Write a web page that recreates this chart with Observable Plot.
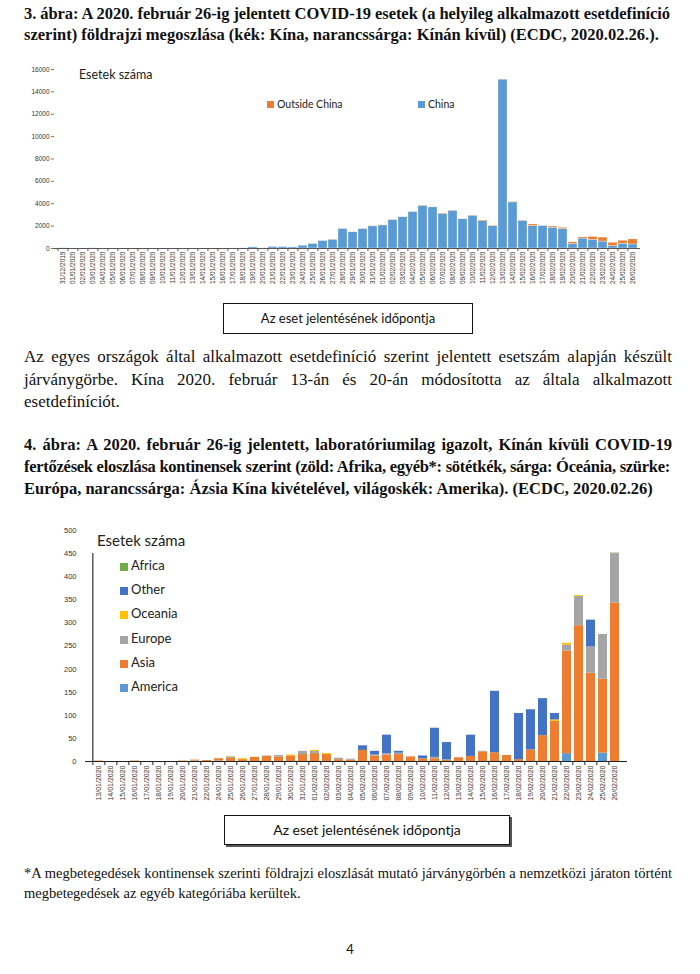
<!DOCTYPE html>
<html><head><meta charset="utf-8">
<script src="https://cdn.jsdelivr.net/npm/d3@7"></script>
<script src="https://cdn.jsdelivr.net/npm/@observablehq/plot@0.6"></script>
<style>
body{margin:0;background:#fff;}
#page{position:relative;width:700px;height:974px;overflow:hidden;background:#fff;}
.abs{position:absolute;}
.serif{font-family:"Liberation Serif","Times New Roman",serif;color:#111;}
.ln{white-space:nowrap;overflow:visible;}
.j{text-align:justify;text-align-last:justify;white-space:normal;}
.sans{font-family:Lato,"Open Sans",sans-serif;color:#111;}
.box{position:absolute;border:1px solid #111;background:#fff;font-family:Lato,"Open Sans",sans-serif;text-align:center;color:#111;}
.lg{position:absolute;font-family:Lato,"Open Sans",sans-serif;color:#222;white-space:nowrap;}
.sq{display:inline-block;vertical-align:middle;margin-right:3px;}
</style></head>
<body><div id="page"></div>
<script>
// ---------- DATA ----------
const dates1 = ["31/12/2019","01/01/2020","02/01/2020","03/01/2020","04/01/2020","05/01/2020","06/01/2020","07/01/2020","08/01/2020","09/01/2020","10/01/2020","11/01/2020","12/01/2020","13/01/2020","14/01/2020","15/01/2020","16/01/2020","17/01/2020","18/01/2020","19/01/2020","20/01/2020","21/01/2020","22/01/2020","23/01/2020","24/01/2020","25/01/2020","26/01/2020","27/01/2020","28/01/2020","29/01/2020","30/01/2020","31/01/2020","01/02/2020","02/02/2020","03/02/2020","04/02/2020","05/02/2020","06/02/2020","07/02/2020","08/02/2020","09/02/2020","10/02/2020","11/02/2020","12/02/2020","13/02/2020","14/02/2020","15/02/2020","16/02/2020","17/02/2020","18/02/2020","19/02/2020","20/02/2020","21/02/2020","22/02/2020","23/02/2020","24/02/2020","25/02/2020","26/02/2020"];
const china = [27,0,0,17,0,0,0,0,0,0, 0,0,0,0,0,0,0,4,17,100, 19,150,140,97,260,420,680,790,1750,1450, 1745,1975,2060,2545,2795,3273,3810,3673,3072,3375, 2612,2938,2431,1986,15100,4117,2481,1995,2015,1860, 1740,415,890,780,620,210,420,360];
const outsideChina = [0,0,0,0,0,0,0,0,0,0, 0,0,0,1,0,0,1,0,0,0, 1,3,2,0,6,11,6,9,12,13, 14,22,24,17,7,5,34,22,57,22, 10,12,72,41,8,57,22,152,13,104, 112,136,104,256,359,306,275,451];
const yTicks1 = [0,2000,4000,6000,8000,10000,12000,14000,16000];
const series1 = ["China","Outside China"];
const colors1 = ["#5B9BD5","#ED7D31"];

const dates2 = ["13/01/2020","14/01/2020","15/01/2020","16/01/2020","17/01/2020","18/01/2020","19/01/2020","20/01/2020","21/01/2020","22/01/2020","24/01/2020","25/01/2020","26/01/2020","27/01/2020","28/01/2020","29/01/2020","30/01/2020","31/01/2020","01/02/2020","02/02/2020","03/02/2020","04/02/2020","05/02/2020","06/02/2020","07/02/2020","08/02/2020","09/02/2020","10/02/2020","11/02/2020","12/02/2020","13/02/2020","14/02/2020","15/02/2020","16/02/2020","17/02/2020","18/02/2020","19/02/2020","20/02/2020","21/02/2020","22/02/2020","23/02/2020","24/02/2020","25/02/2020","26/02/2020"];
const america = [0,0,0,0,0,0,0,0,1,0, 1,0,0,0,0,0,0,0,0,0, 0,0,0,0,0,0,0,0,0,0, 0,0,0,0,0,0,0,0,0,17, 0,0,18,0];
const asia    = [1,0,0,1,0,0,0,1,2,2, 5,7,4,9,11,10,12,15,17,15, 4,3,24,12,14,15,10,6,6,2, 8,11,21,19,13,4,25,56,87,222, 294,191,160,343];
const europe  = [0,0,0,0,0,0,0,0,0,0, 0,3,0,0,1,3,0,7,5,0, 3,2,0,2,3,3,0,0,3,2, 0,0,1,0,0,0,0,0,0,13, 63,57,97,107];
const oceania = [0,0,0,0,0,0,0,0,0,0, 0,1,2,0,0,0,2,0,2,2, 0,0,0,0,0,0,0,0,0,0, 0,0,0,0,0,0,0,0,3,4, 2,0,0,0];
const other   = [0,0,0,0,0,0,0,0,0,0, 0,0,0,0,0,0,0,0,0,0, 0,0,10,8,40,4,0,6,63,37, 0,46,0,133,0,100,87,80,14,0, 0,58,0,0];
const africa  = [0,0,0,0,0,0,0,0,0,0, 0,0,0,0,0,0,0,0,0,0, 0,0,0,0,0,0,0,0,0,0, 0,0,0,0,0,0,0,0,0,0, 0,0,0,1];
const yTicks2 = [0,50,100,150,200,250,300,350,400,450,500];
const series2 = ["America","Asia","Europe","Oceania","Other","Africa"];
const colors2 = ["#5B9BD5","#ED7D31","#A5A5A5","#FFC000","#4472C4","#70AD47"];
const legend2 = ["Africa","Other","Oceania","Europe","Asia","America"];

// ---------- TEXT ----------
const page = document.getElementById("page");
function block(lines, {top, left=24, width=648, size=15, lh=21.5, bold=false, justifyLast=false}) {
  const div = document.createElement("div");
  div.className = "abs serif";
  div.style.cssText += `top:${top}px;left:${left}px;width:${width}px;font-size:${size}px;line-height:${lh}px;font-weight:${bold?"bold":"normal"};`;
  lines.forEach((t, i) => {
    const l = document.createElement("div");
    const just = i < lines.length - 1 || justifyLast;
    l.className = "ln" + (just ? " j" : "");
    l.textContent = t;
    div.appendChild(l);
  });
  page.appendChild(div);
  // fit overlong lines
  div.querySelectorAll(".ln").forEach(l => {
    const s = document.createElement("span"); s.textContent = l.textContent; s.style.whiteSpace = "nowrap";
    s.style.visibility="hidden"; s.style.position="absolute"; div.appendChild(s);
    const w = s.getBoundingClientRect().width; s.remove();
    if (w > width) {
      const n = l.textContent.length;
      l.style.letterSpacing = (-(w - width + 2) / n) + "px";
      l.style.whiteSpace = "nowrap"; l.style.textAlignLast = "left";
    }
  });
  return div;
}
block(["3. ábra: A 2020. február 26-ig jelentett COVID-19 esetek (a helyileg alkalmazott esetdefiníció",
       "szerint) földrajzi megoszlása (kék: Kína, narancssárga: Kínán kívül) (ECDC, 2020.02.26.)."],
      {top:3, bold:true, size:16.5, lh:21});
block(["Az egyes országok által alkalmazott esetdefiníció szerint jelentett esetszám alapján készült",
       "járványgörbe. Kína 2020. február 13-án és 20-án módosította az általa alkalmazott",
       "esetdefiníciót."], {top:346, size:17, lh:22.5});
block(["4. ábra: A 2020. február 26-ig jelentett, laboratóriumilag igazolt, Kínán kívüli COVID-19",
       "fertőzések eloszlása kontinensek szerint (zöld: Afrika, egyéb*: sötétkék, sárga: Óceánia, szürke:",
       "Európa, narancssárga: Ázsia Kína kivételével, világoskék: Amerika). (ECDC, 2020.02.26)"],
      {top:434, bold:true, size:16.5, lh:22});
block(["*A megbetegedések kontinensek szerinti földrajzi eloszlását mutató járványgörbén a nemzetközi járaton történt",
       "megbetegedések az egyéb kategóriába kerültek."], {top:864, size:14.5, lh:19.5});
const pn = document.createElement("div");
pn.className = "abs sans"; pn.style.cssText += "top:941px;left:0;width:700px;text-align:center;font-size:13px;";
pn.textContent = "4"; page.appendChild(pn);

// ---------- CHART 1 ----------
const rows1 = dates1.flatMap((d, i) => [
  {date: d, series: "China", value: china[i]},
  {date: d, series: "Outside China", value: outsideChina[i]}
]);
const W = 700;
const m1 = {l:54, r:60, t:19, b:52};
const bw1 = (W - m1.l - m1.r) / dates1.length;
const chart1 = Plot.plot({
  width: W, height: 250,
  marginLeft: m1.l, marginRight: m1.r, marginTop: m1.t, marginBottom: m1.b,
  style: {fontFamily: "Liberation Sans, Arial, sans-serif", color: "#333", background: "transparent"},
  x: {domain: dates1, paddingInner: 0.14, paddingOuter: 0.07, label: null},
  y: {domain: [0, 16000], label: null},
  color: {domain: series1, range: colors1},
  marks: [
    Plot.barY(rows1, {x: "date", y: "value", fill: "series", order: series1, stroke: "#fff", strokeWidth: 0.3}),
    Plot.axisY({ticks: yTicks1, tickFormat: d => String(d), tickSize: 3, tickPadding: 2, fontSize: 6.5, label: null, stroke: "#777"}),
    Plot.axisX({tickRotate: -90, tickSize: 0, tickPadding: 3, fontSize: 6.5, label: null}),
    Plot.axisX({tickSize: 3, tickFormat: () => "", dx: -bw1 / 2, label: null, stroke: "#555"}),
    Plot.ruleY([0], {stroke: "#555", strokeWidth: 1})
  ]
});
chart1.style.position = "absolute"; chart1.style.left = "0px"; chart1.style.top = "50px";
page.appendChild(chart1);

function addText(txt, css, cls="lg") {
  const d = document.createElement("div"); d.className = cls; d.style.cssText += css; d.textContent = txt; page.appendChild(d); return d;
}
function addLegend(label, color, left, cy, size, sq) {
  const d = document.createElement("div"); d.className = "lg";
  d.style.cssText += `left:${left}px;top:${cy - size*0.7}px;font-size:${size}px;line-height:${size*1.4}px;`;
  const s = document.createElement("span"); s.className = "sq";
  s.style.cssText = `width:${sq}px;height:${sq}px;background:${color};`;
  d.appendChild(s); d.appendChild(document.createTextNode(label)); page.appendChild(d);
}
addText("Esetek száma", "left:79px;top:67px;font-size:12.5px;");
addLegend("Outside China", colors1[1], 267, 104, 10.5, 7);
addLegend("China", colors1[0], 418, 104, 10.5, 7);
const b1 = document.createElement("div"); b1.className = "box";
b1.style.cssText += "left:223px;top:303px;width:248px;height:29px;line-height:29px;font-size:13px;";
b1.textContent = "Az eset jelentésének időpontja"; page.appendChild(b1);

// ---------- CHART 2 ----------
const cols2 = [america, asia, europe, oceania, other, africa];
const rows2 = dates2.flatMap((d, i) => series2.map((s, k) => ({date: d, series: s, value: cols2[k][i]})));
const m2 = {l:85, r:73, t:15, b:54};
const bw2 = (W - m2.l - m2.r) / dates2.length;
const chart2 = Plot.plot({
  width: W, height: 300,
  marginLeft: m2.l, marginRight: m2.r, marginTop: m2.t, marginBottom: m2.b,
  style: {fontFamily: "Liberation Sans, Arial, sans-serif", color: "#333", background: "transparent"},
  x: {domain: dates2, paddingInner: 0.25, paddingOuter: 0.12, label: null},
  y: {domain: [0, 500], label: null},
  color: {domain: series2, range: colors2},
  marks: [
    Plot.barY(rows2, {x: "date", y: "value", fill: "series", order: series2}),
    Plot.axisY({ticks: yTicks2, tickSize: 0, tickPadding: 9, fontSize: 7.5, label: null}),
    Plot.tickY(yTicks2.filter(v => v <= 450), {y: d => d, x: dates2[0], dx: -bw2 / 2 - 2, stroke: "#444"}),
    Plot.ruleX([dates2[0]], {x: d => d, dx: -bw2 / 2, y1: 0, y2: 450, stroke: "#333", strokeWidth: 1.2}),
    Plot.axisX({tickRotate: -90, tickSize: 0, tickPadding: 4, fontSize: 7, label: null}),
    Plot.axisX({tickSize: 4, tickFormat: () => "", dx: -bw2 / 2, label: null, stroke: "#222"}),
    Plot.ruleY([0], {stroke: "#222", strokeWidth: 1.2})
  ]
});
chart2.style.position = "absolute"; chart2.style.left = "0px"; chart2.style.top = "515px";
page.appendChild(chart2);
addText("Esetek száma", "left:97px;top:531px;font-size:15px;");
const legendY = [565, 589, 613, 638, 662, 686];
legend2.forEach((s, i) => addLegend(s, colors2[series2.indexOf(s)], 120, legendY[i], 13, 8));
const b2 = document.createElement("div"); b2.className = "box";
b2.style.cssText += "left:224px;top:815px;width:284px;height:28px;line-height:28px;font-size:14px;border:1.5px solid #111;box-shadow:2px 2px 0 #555;";
b2.textContent = "Az eset jelentésének időpontja"; page.appendChild(b2);
</script></body></html>
